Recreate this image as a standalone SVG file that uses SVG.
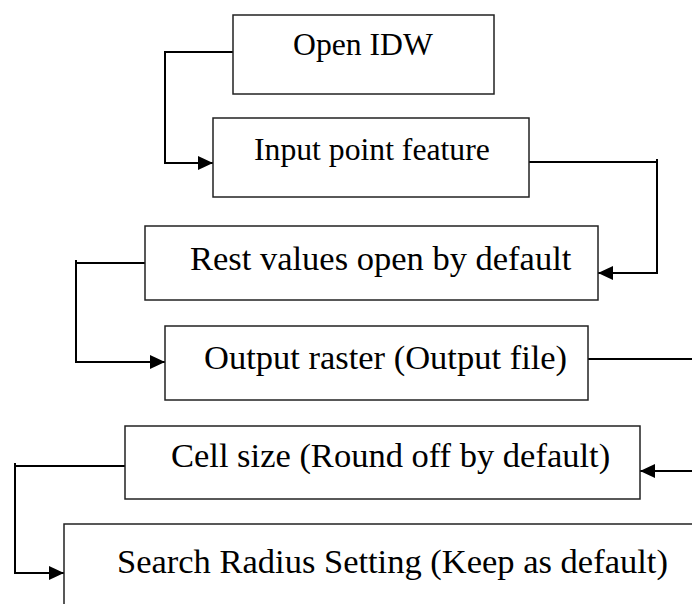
<svg xmlns="http://www.w3.org/2000/svg" width="692" height="604" viewBox="0 0 692 604">
<style>
.box{fill:#fff;stroke:#222;stroke-width:1.5}
.c{fill:none;stroke:#000;stroke-width:2}
</style>
<defs>
<marker id="arr" markerUnits="userSpaceOnUse" markerWidth="15" markerHeight="14" refX="15" refY="7" orient="auto">
<path d="M0,0 L15,7 L0,14 z" fill="#000"/>
</marker>
</defs>
<rect width="692" height="604" fill="#fff"/>
<g id="connectors">
<path class="c" d="M233,52 H165 V163 H213" marker-end="url(#arr)"/>
<path class="c" d="M529,162 H657 M657,159 V273 H598" marker-end="url(#arr)"/>
<path class="c" d="M145,263 H76 M76,260 V362 H165" marker-end="url(#arr)"/>
<path class="c" d="M588,359 H692"/>
<path class="c" d="M692,471 H640" marker-end="url(#arr)"/>
<path class="c" d="M125,466 H15 M15,463 V573 H64" marker-end="url(#arr)"/>
</g>
<g font-family="'Liberation Serif', 'Times New Roman', 'DejaVu Serif', serif" fill="#000">
<g id="n1"><rect class="box" x="233" y="15" width="261" height="79"/><text font-size="31.7" x="293" y="55">Open IDW</text></g>
<g id="n2"><rect class="box" x="213" y="118" width="316" height="79"/><text font-size="31.7" x="254" y="160">Input point feature</text></g>
<g id="n3"><rect class="box" x="145" y="226" width="453" height="74"/><text font-size="34.5" x="190" y="270">Rest values open by default</text></g>
<g id="n4"><rect class="box" x="165" y="326" width="423" height="74"/><text font-size="34.5" x="204" y="369">Output raster (Output file)</text></g>
<g id="n5"><rect class="box" x="125" y="426" width="515" height="73"/><text font-size="34.5" x="171" y="467">Cell size (Round off by default)</text></g>
<g id="n6"><rect class="box" x="64" y="524" width="650" height="100"/><text font-size="34.5" x="117" y="573">Search Radius Setting (Keep as default)</text></g>
</g>
</svg>
